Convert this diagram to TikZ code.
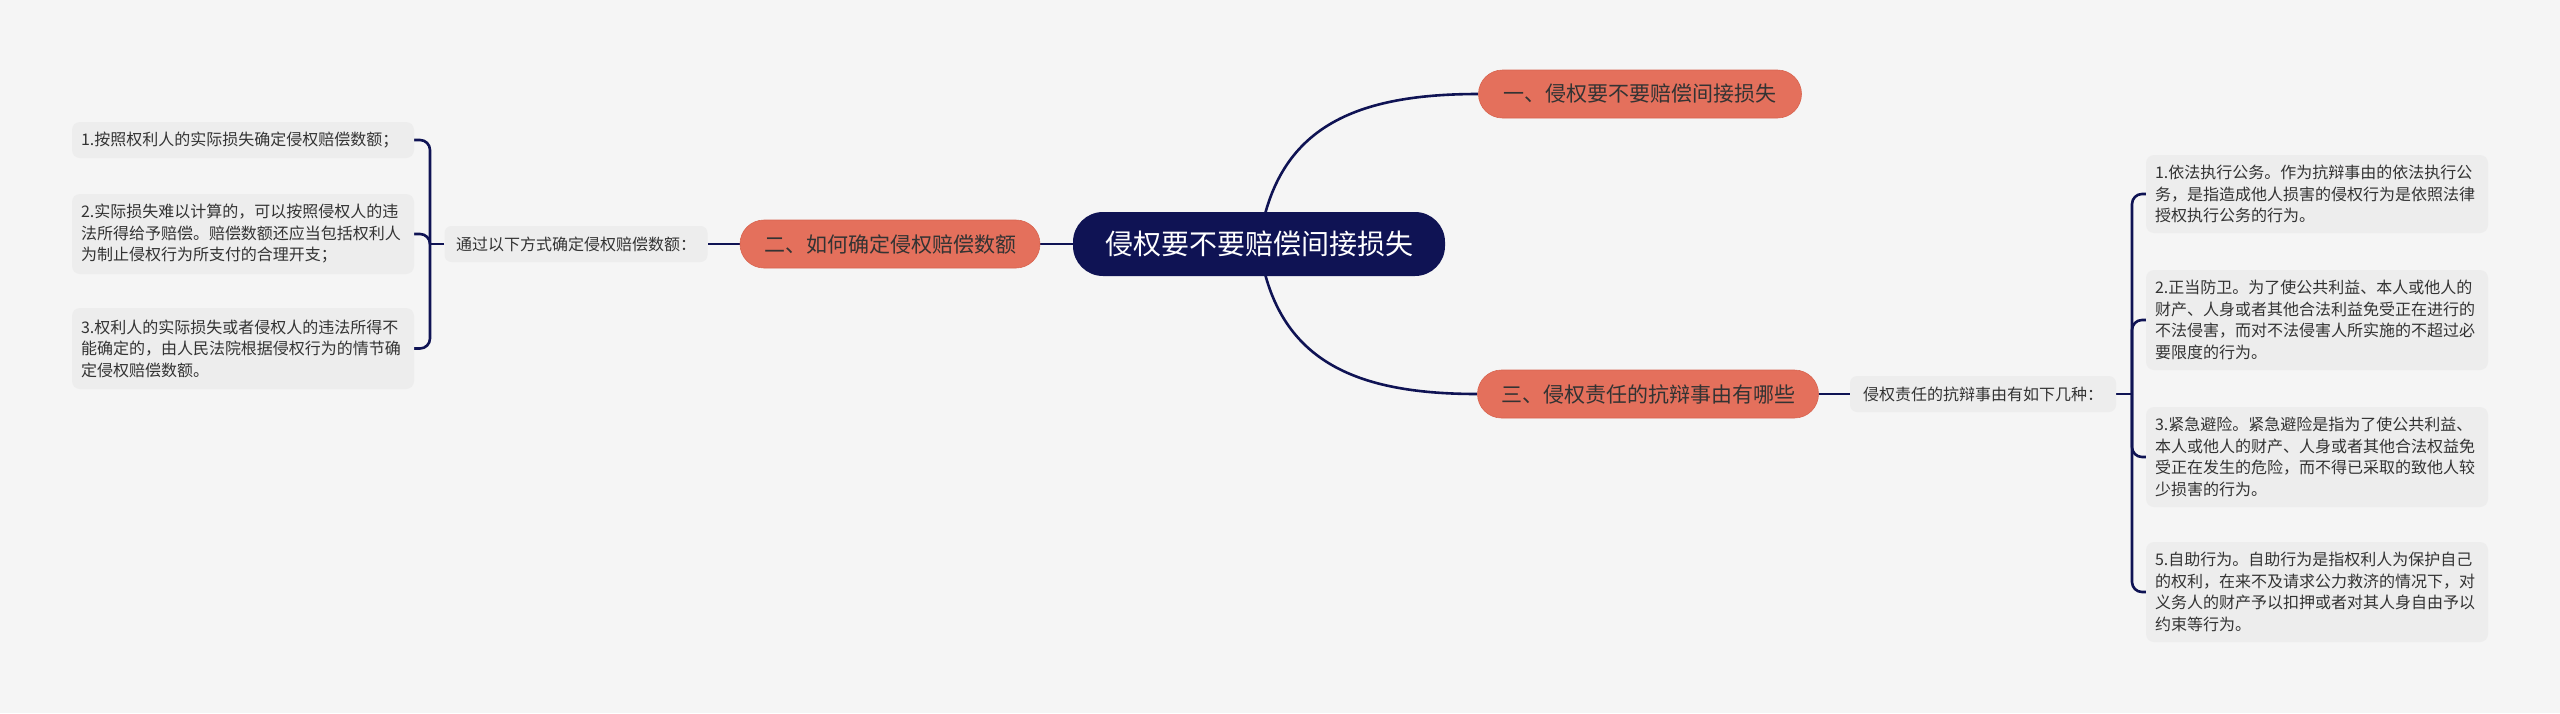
\documentclass[tikz,border=0pt]{standalone}
\usepackage{fontspec}
\newfontfamily\cjk{Noto Sans CJK SC}
\definecolor{bgcol}{HTML}{F5F5F5}
\definecolor{leafcol}{HTML}{EDEDED}
\definecolor{navy}{HTML}{0F1354}
\definecolor{coral}{HTML}{E4705C}
\definecolor{coraledge}{HTML}{D8644F}
\definecolor{txt}{HTML}{333333}
\pgfdeclarelayer{bglayer}
\pgfdeclarelayer{lines}
\pgfsetlayers{bglayer,lines,main}
\tikzset{
  rootbox/.style={fill=navy, text=white, rounded corners=30pt, minimum width=372pt, minimum height=64pt, inner sep=0pt, font=\cjk\fontsize{28}{30}\selectfont},
  topicbox/.style={fill=coral, draw=coraledge, line width=0.6pt, text=txt, rounded corners=24pt, minimum height=48pt, inner sep=0pt, font=\cjk\fontsize{21}{24}\selectfont},
  labelbox/.style={fill=leafcol, text=txt, rounded corners=7pt, minimum height=36pt, inner sep=0pt, font=\cjk\fontsize{16}{20}\selectfont},
  leafbox/.style={fill=leafcol, text=txt, rounded corners=8pt, inner xsep=9pt, inner ysep=0pt, text width=324pt, align=left, font=\cjk\fontsize{16}{21.5}\selectfont},
  conn/.style={draw=navy, line width=2.6pt},
}
\begin{document}
\begin{tikzpicture}[x=1pt,y=-1pt]
\useasboundingbox (0,0) rectangle (2560,713);
\begin{pgfonlayer}{bglayer}
\fill[bgcol] (0,0) rectangle (2560,713);
\end{pgfonlayer}

\node[rootbox] (C) at (1259,244) {侵权要不要赔偿间接损失};
\node[topicbox, minimum width=323pt] (N1) at (1640,94) {一、侵权要不要赔偿间接损失};
\node[topicbox, minimum width=300pt] (N2) at (890,244) {二、如何确定侵权赔偿数额};
\node[topicbox, minimum width=341pt] (N3) at (1648,394) {三、侵权责任的抗辩事由有哪些};

\node[labelbox, minimum width=263pt] (LL) at (576,244) {通过以下方式确定侵权赔偿数额：};
\node[labelbox, minimum width=266pt] (LR) at (1983,394) {侵权责任的抗辩事由有如下几种：};

\node[leafbox, minimum height=36pt] (L1) at (243,140) {1.按照权利人的实际损失确定侵权赔偿数额；};
\node[leafbox, minimum height=80pt] (L2) at (243,234) {2.实际损失难以计算的，可以按照侵权人的违\\法所得给予赔偿。赔偿数额还应当包括权利人\\为制止侵权行为所支付的合理开支；};
\node[leafbox, minimum height=81pt] (L3) at (243,348.5) {3.权利人的实际损失或者侵权人的违法所得不\\能确定的，由人民法院根据侵权行为的情节确\\定侵权赔偿数额。};

\node[leafbox, minimum height=78pt] (R1) at (2317,194) {1.依法执行公务。作为抗辩事由的依法执行公\\务，是指造成他人损害的侵权行为是依照法律\\授权执行公务的行为。};
\node[leafbox, minimum height=100pt] (R2) at (2317,320) {2.正当防卫。为了使公共利益、本人或他人的\\财产、人身或者其他合法利益免受正在进行的\\不法侵害，而对不法侵害人所实施的不超过必\\要限度的行为。};
\node[leafbox, minimum height=100pt] (R3) at (2317,457) {3.紧急避险。紧急避险是指为了使公共利益、\\本人或他人的财产、人身或者其他合法权益免\\受正在发生的危险，而不得已采取的致他人较\\少损害的行为。};
\node[leafbox, minimum height=100pt] (R4) at (2317,592) {5.自助行为。自助行为是指权利人为保护自己\\的权利，在来不及请求公力救济的情况下，对\\义务人的财产予以扣押或者对其人身自由予以\\约束等行为。};

\coordinate (lb) at (430,244);
\coordinate (rb) at (2132,394);

\begin{pgfonlayer}{lines}
\draw[conn] (C.center) .. controls (1275,130) and (1350,94) .. (N1.west);
\draw[conn] (C.center) .. controls (1275,358) and (1350,394) .. (N3.west);
\draw[conn] (C.west) -- (N2.east);
\draw[conn] (N2.west) -- (LL.east);
\draw[conn] (LL.west) -- (lb);
\draw[conn, rounded corners=10pt] (L1.east) -| (lb) |- (L3.east);
\draw[conn, rounded corners=10pt] (L2.east) -| (lb);
\draw[conn] (N3.east) -- (LR.west);
\draw[conn] (LR.east) -- (rb);
\draw[conn, rounded corners=10pt] (R1.west) -| (rb) |- (R4.west);
\draw[conn, rounded corners=10pt] (R2.west) -| (rb);
\draw[conn, rounded corners=10pt] (R3.west) -| (rb);
\end{pgfonlayer}
\end{tikzpicture}
\end{document}
